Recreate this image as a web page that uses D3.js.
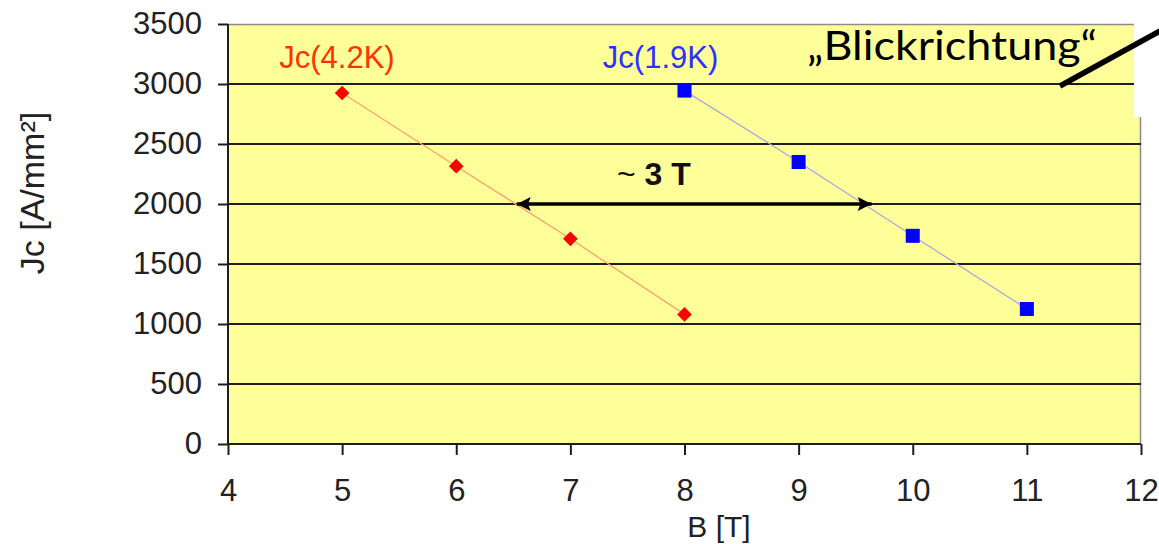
<!DOCTYPE html>
<html>
<head>
<meta charset="utf-8">
<script src="https://cdn.jsdelivr.net/npm/d3@7"></script>
<style>
  html, body { margin: 0; padding: 0; background: #ffffff; }
  svg { display: block; }
</style>
</head>
<body>
<svg id="chart" width="1159" height="544"></svg>
<script>
// Critical current density vs. magnetic field at two temperatures
const fieldTicks = [4, 5, 6, 7, 8, 9, 10, 11, 12];
const jcTicks = [0, 500, 1000, 1500, 2000, 2500, 3000, 3500];

const b42 = [5, 6, 7, 8];
const jc42 = [2925, 2315, 1710, 1080];
const b19 = [8, 9, 10, 11];
const jc19 = [2945, 2350, 1735, 1125];

const seriesNames = ["Jc(4.2K)", "Jc(1.9K)"];
// label anchor points (centre, baseline) in data units
const seriesLabelAt = [[4.955, 3130], [7.79, 3130]];

// field shift between the two curves at Jc = 2000 A/mm²
const shiftSpan = [6.53, 9.64];
const shiftLevel = 2000;
const shiftText = ["~ ", "3 T"];

const noteText = "\u201EBlickrichtung\u201C";

const svg = d3.select("#chart");
const plotLeft = 228, plotRight = 1141, plotTop = 24, plotBottom = 444;

const x = d3.scaleLinear().domain([4, 12]).range([plotLeft, plotRight]);
const y = d3.scaleLinear().domain([0, 3500]).range([plotBottom, plotTop]);

const sans = "'Liberation Sans', Arial, sans-serif";

// plot area
svg.append("rect")
  .attr("x", plotLeft).attr("y", plotTop)
  .attr("width", plotRight - plotLeft).attr("height", plotBottom - plotTop)
  .attr("fill", "#ffff99");

// frame on top and right
svg.append("path")
  .attr("d", `M${plotLeft},${plotTop + 0.5}H${plotRight - 0.5}V${plotBottom}`)
  .attr("fill", "none").attr("stroke", "#8c8c8c").attr("stroke-width", 1.5);

// horizontal gridlines
svg.append("g")
  .selectAll("line")
  .data(jcTicks.filter(v => v > 0 && v < 3500))
  .join("line")
  .attr("x1", plotLeft).attr("x2", plotRight)
  .attr("y1", d => y(d)).attr("y2", d => y(d))
  .attr("stroke", "#1e1e1e").attr("stroke-width", 2);

// axes
const yAxis = d3.axisLeft(y).tickValues(jcTicks).tickFormat(d3.format("d"))
  .tickSize(10).tickPadding(16);
const xAxis = d3.axisBottom(x).tickValues(fieldTicks).tickFormat(d3.format("d"))
  .tickSize(11).tickPadding(24);

const gy = svg.append("g").attr("transform", `translate(${plotLeft},0)`).call(yAxis);
const gx = svg.append("g").attr("transform", `translate(0,${plotBottom})`).call(xAxis);

[gy, gx].forEach(g => {
  g.select(".domain").attr("stroke", "#1e1e1e").attr("stroke-width", 2);
  g.selectAll(".tick line").attr("stroke", "#1e1e1e").attr("stroke-width", 2);
  g.selectAll(".tick text")
    .attr("fill", "#222")
    .style("font-family", sans)
    .style("font-size", "31px");
});
gx.select(".domain").attr("d", `M${plotLeft},0H${plotRight}`);
gy.select(".domain").attr("d", `M0,${plotTop}V${plotBottom}`);

// axis titles
svg.append("text")
  .attr("x", 719).attr("y", 537)
  .attr("text-anchor", "middle")
  .attr("fill", "#222")
  .style("font-family", sans)
  .style("font-size", "30px")
  .text("B [T]");

svg.append("text")
  .attr("transform", "translate(44,193) rotate(-90)")
  .attr("text-anchor", "middle")
  .attr("fill", "#222")
  .style("font-family", sans)
  .style("font-size", "34px")
  .text("Jc [A/mm\u00B2]");

// series lines
const line = d3.line().x(d => x(d[0])).y(d => y(d[1]));
const pts42 = b42.map((b, i) => [b, jc42[i]]);
const pts19 = b19.map((b, i) => [b, jc19[i]]);

svg.append("path").datum(pts42).attr("d", line)
  .attr("fill", "none").attr("stroke", "#ffa070").attr("stroke-width", 1.3);
svg.append("path").datum(pts19).attr("d", line)
  .attr("fill", "none").attr("stroke", "#a8a8e0").attr("stroke-width", 1.3);

// markers
svg.append("g").selectAll("path")
  .data(pts42)
  .join("path")
  .attr("transform", d => `translate(${x(d[0])},${y(d[1])}) rotate(45)`)
  .attr("d", "M-5.2,-5.2H5.2V5.2H-5.2Z")
  .attr("fill", "#ff0000");

svg.append("g").selectAll("rect")
  .data(pts19)
  .join("rect")
  .attr("x", d => x(d[0]) - 7).attr("y", d => y(d[1]) - 7)
  .attr("width", 14).attr("height", 14)
  .attr("fill", "#0000ff");

// series labels
const labelColors = ["#ff3300", "#2f2fff"];
svg.append("g").selectAll("text")
  .data(seriesNames)
  .join("text")
  .attr("x", (d, i) => x(seriesLabelAt[i][0]))
  .attr("y", (d, i) => y(seriesLabelAt[i][1]))
  .attr("text-anchor", "middle")
  .attr("fill", (d, i) => labelColors[i])
  .style("font-family", sans)
  .style("font-size", "31px")
  .text(d => d);

// double-headed shift arrow
const defs = svg.append("defs");
["start", "end"].forEach(kind => {
  defs.append("marker")
    .attr("id", "head-" + kind)
    .attr("viewBox", "0 0 10 10")
    .attr("refX", kind === "end" ? 10 : 0).attr("refY", 5)
    .attr("markerWidth", 4.2).attr("markerHeight", 4)
    .attr("markerUnits", "strokeWidth")
    .attr("orient", "auto")
    .append("path")
    .attr("d", kind === "end" ? "M0,0L10,5L0,10L2,5Z" : "M10,0L0,5L10,10L8,5Z")
    .attr("fill", "#000");
});
svg.append("line")
  .attr("x1", x(shiftSpan[0])).attr("x2", x(shiftSpan[1]))
  .attr("y1", y(shiftLevel)).attr("y2", y(shiftLevel))
  .attr("stroke", "#000").attr("stroke-width", 3.5)
  .attr("marker-start", "url(#head-start)")
  .attr("marker-end", "url(#head-end)");

const shiftLabel = svg.append("text")
  .attr("x", 617).attr("y", 185)
  .attr("fill", "#111")
  .style("font-family", sans)
  .style("font-size", "32px");
shiftLabel.append("tspan").style("font-weight", "normal").text(shiftText[0]);
shiftLabel.append("tspan").style("font-weight", "bold").text(shiftText[1]);

// annotation: viewing direction
svg.append("rect")
  .attr("x", 1134).attr("y", 0).attr("width", 25).attr("height", 117)
  .attr("fill", "#ffffff");

svg.append("text")
  .attr("x", 807).attr("y", 60)
  .attr("fill", "#000")
  .attr("textLength", 290)
  .attr("lengthAdjust", "spacingAndGlyphs")
  .style("font-family", "Lato, 'Open Sans', sans-serif")
  .style("font-size", "40px")
  .text(noteText);

svg.append("line")
  .attr("x1", 1060).attr("y1", 86)
  .attr("x2", 1160).attr("y2", 31)
  .attr("stroke", "#000").attr("stroke-width", 5.5);
</script>
</body>
</html>
